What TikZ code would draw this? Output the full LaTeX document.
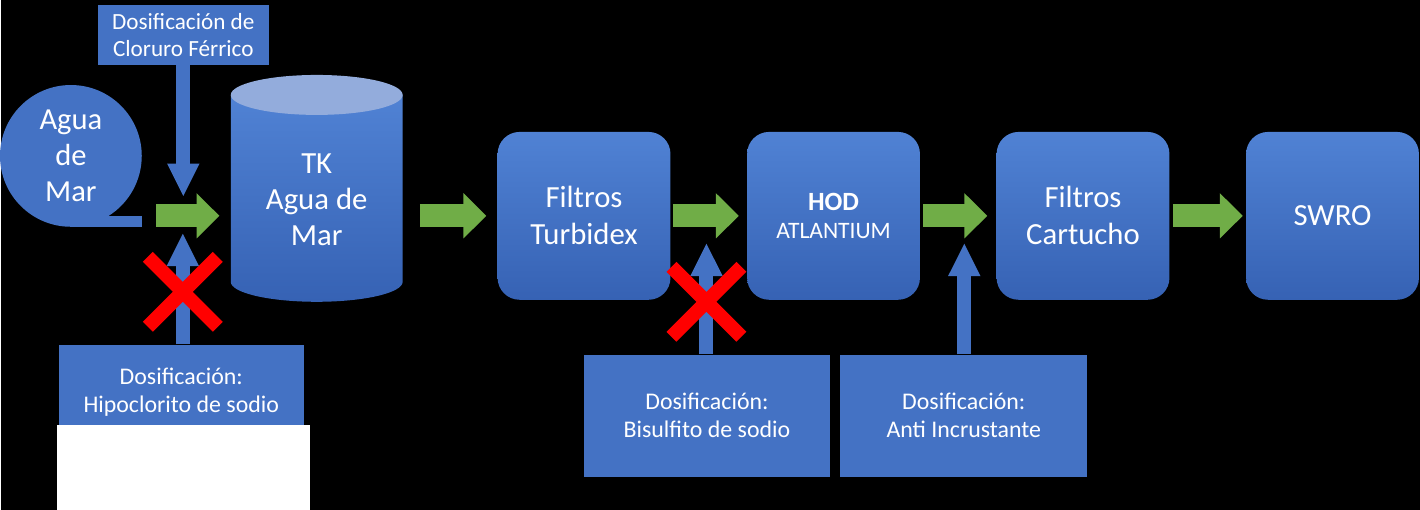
\documentclass[tikz,border=0pt]{standalone}
\usepackage{fontspec}
\setmainfont{Carlito}
\usetikzlibrary{arrows.meta, positioning, shapes.symbols}
\definecolor{boxtop}{HTML}{5082D4}
\definecolor{boxbot}{HTML}{3662B4}
\definecolor{dosblue}{HTML}{4472C4}
\definecolor{flecha}{HTML}{70AD47}
\definecolor{tapa}{HTML}{93ACDC}
\begin{document}
\begin{tikzpicture}[x=0.02cm,y=0.02cm,node distance=1.52cm,>=Stealth]
        \tikzstyle{proc}=[rectangle,rounded corners=0.44cm,top color=boxtop,bottom color=boxbot,text=white,minimum width=3.46cm,minimum height=3.36cm,align=center,font=\fontsize{17.5}{21}\selectfont]
        \tikzstyle{dosbox}=[rectangle,fill=dosblue,text=white,align=center,font=\fontsize{13.6}{15.9}\selectfont]
        \tikzstyle{flujo}=[line width=13pt,draw=flecha,-{Triangle[length=13pt,width=25pt]}]
        \tikzstyle{dosflecha}=[line width=8pt,draw=dosblue,-{Triangle[length=19pt,width=17pt]}]
        \tikzstyle{cruz}=[line width=8pt,draw=red]
        % fondo
        \fill[black] (0,0) rectangle (1420,510);
        % agua de mar y tanque
        \node[magnetic tape,fill=dosblue,text=white,inner sep=2.5pt,align=center,font=\fontsize{17.4}{20.4}\selectfont] (mar) at (70,354) {Agua\\de\\Mar};
        \path[top color=boxtop,bottom color=boxbot] (230,415) -- (230,228) arc[start angle=180,end angle=360,x radius=86,y radius=20] -- (402,415) -- cycle;
        \fill[tapa] (316,415) ellipse[x radius=86,y radius=20];
        \node[text=white,align=center,font=\fontsize{17.5}{20.4}\selectfont,minimum width=3.44cm] (tk) at (316,310) {TK\\Agua de\\Mar};
        % cadena principal
        \node[proc] (turb) at (583.5,294) {Filtros\\Turbidex};
        \node[proc,right=of turb,font=\fontsize{13.4}{15.6}\selectfont] (hod) {{\fontsize{15}{15.6}\selectfont\bfseries HOD}\\ATLANTIUM};
        \node[proc,right=of hod] (cart) {Filtros\\Cartucho};
        \node[proc,right=of cart] (swro) {SWRO};
        % dosificaciones
        \node[dosbox,minimum width=3.42cm,minimum height=1.2cm,font=\fontsize{13.2}{15.3}\selectfont] (clor) at (182.5,475) {Dosificación de\\Cloruro Férrico};
        \node[dosbox,minimum width=4.9cm,minimum height=1.9cm] (hipo) at (180.5,117.5) {Dosificación:\\Hipoclorito de sodio};
        \node[dosbox,minimum width=4.94cm,minimum height=2.44cm] (bisu) at (706.5,94) {Dosificación:\\Bisulfito de sodio};
        \node[dosbox,minimum width=4.94cm,minimum height=2.44cm] (anti) at (963.5,94) {Dosificación:\\Anti Incrustante};
        \fill[white] (56,0) rectangle (309,85);
        \coordinate (iny1) at (182.5,313);
        \coordinate (iny2) at (182,277);
        \coordinate (iny3) at (706,267);
        \coordinate (iny4) at (964,267);
        % flujo
        \draw[flujo,shorten <=0.28cm,shorten >=0.22cm] (mar.east |- turb.west) -- (tk.west |- turb.west);
        \draw[flujo,shorten <=0.34cm,shorten >=0.22cm] (tk.east |- turb.west) -- (turb.west);
        \draw[flujo,shorten <=0.04cm,shorten >=0.16cm] (turb) -- (hod);
        \draw[flujo,shorten <=0.06cm,shorten >=0.18cm] (hod) -- (cart);
        \draw[flujo,shorten <=0.06cm,shorten >=0.06cm] (cart) -- (swro);
        % inyecciones
        \draw[dosflecha] (clor) -- (iny1);
        \draw[dosflecha] (hipo.north -| iny2) -- (iny2);
        \draw[dosflecha] (bisu.north -| iny3) -- (iny3);
        \draw[dosflecha] (anti.north -| iny4) -- (iny4);
        % anuladas
        \draw[cruz] (147,253) -- (217,183);
        \draw[cruz] (147,183) -- (217,253);
        \draw[cruz] (671,243) -- (741,173);
        \draw[cruz] (671,173) -- (741,243);
    \end{tikzpicture}
\end{document}
